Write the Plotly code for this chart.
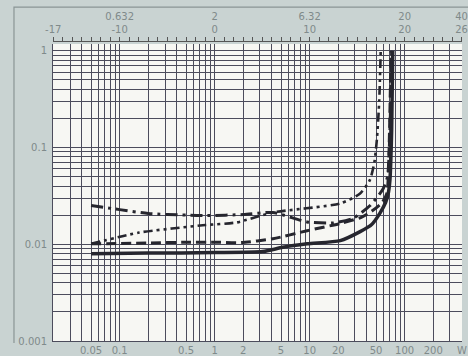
import plotly.graph_objects as go

# ---- data (power in W, THD in %) ----
power_solid = [0.05, 0.2, 1, 3.2, 5.2, 9.4, 21, 34, 45, 55, 63, 67, 70, 73, 75]
thd_solid = [0.0080, 0.0081, 0.0082, 0.0084, 0.0093, 0.0101, 0.0109, 0.0135, 0.016, 0.021, 0.027, 0.033, 0.046, 0.15, 1.0]

power_dash = [0.05, 0.2, 0.5, 1, 1.9, 4.1, 9.4, 21, 35, 46, 58, 65, 67, 69, 72]
thd_dash = [0.0101, 0.0103, 0.0105, 0.0105, 0.0104, 0.0114, 0.0138, 0.0164, 0.019, 0.0223, 0.027, 0.0335, 0.046, 0.12, 1.0]

power_dashdotdot = [0.05, 0.16, 0.8, 1.7, 4.1, 21, 34, 43, 48, 51, 54, 56]
thd_dashdotdot = [0.0101, 0.0132, 0.0158, 0.0168, 0.0213, 0.0264, 0.0335, 0.046, 0.07, 0.12, 0.3, 1.0]

power_dashdot = [0.05, 0.1, 0.2, 0.5, 0.83, 2, 4.1, 9.4, 17.6, 28.5, 43, 59, 66, 70, 73]
thd_dashdot = [0.0252, 0.0228, 0.0208, 0.0200, 0.0198, 0.0203, 0.0213, 0.0170, 0.0166, 0.0185, 0.025, 0.037, 0.05, 0.15, 1.0]

# axis ticks
x_tickvals = [0.05, 0.1, 0.5, 1, 2, 5, 10, 20, 50, 100, 200, 400]
x_ticktext = ["0.05", "0.1", "0.5", "1", "2", "5", "10", "20", "50", "100", "200", "W"]
y_tickvals = [0.001, 0.01, 0.1, 1]
y_ticktext = ["0.001", "0.01", "0.1", "1"]
db_values = list(range(-17, 27))
db_labels = {-17: " <br>-17", -10: "0.632<br>-10", 0: "2<br>0", 10: "6.32<br>10",
             20: "20<br>20", 26: "40<br>26"}

X_RANGE = [-1.702, 2.604]   # log10 of ~0.02 W .. ~400 W

LINE = "#26262e"
GRID = "#4c4c5c"
LABEL = "#7f8a8a"
PAPER = "#c9d3d2"
PLOT = "#f7f7f3"

x_grid = [m * 10 ** e for e in range(-2, 3) for m in range(1, 10)
          if 0.02 <= m * 10 ** e <= 400]
y_grid = [m * 10 ** e for e in range(-3, 1) for m in range(1, 10) if m * 10 ** e <= 1]

fig = go.Figure()
fig.add_trace(go.Scatter(x=power_solid, y=thd_solid, mode="lines",
                         line=dict(color=LINE, width=3.5, shape="spline", smoothing=0.6)))
fig.add_trace(go.Scatter(x=power_dash, y=thd_dash, mode="lines",
                         line=dict(color=LINE, width=3, dash="10px,5px", shape="spline", smoothing=0.6)))
fig.add_trace(go.Scatter(x=power_dashdotdot, y=thd_dashdotdot, mode="lines",
                         line=dict(color=LINE, width=2.6, dash="9px,4px,3px,4px,3px,4px",
                                   shape="spline", smoothing=0.6)))
fig.add_trace(go.Scatter(x=power_dashdot, y=thd_dashdot, mode="lines",
                         line=dict(color=LINE, width=3, dash="12px,5px,3px,5px",
                                   shape="spline", smoothing=0.6)))
# invisible trace to activate the top dB axis
fig.add_trace(go.Scatter(x=[0.02, 400], y=[0.001, 0.001], xaxis="x2", mode="lines",
                         line=dict(width=0), hoverinfo="skip"))

font = dict(family="DejaVu Sans", size=10, color=LABEL)

fig.update_layout(
    width=468, height=356,
    margin=dict(l=53, r=6, t=41, b=15),
    paper_bgcolor=PAPER, plot_bgcolor=PLOT,
    showlegend=False,
    font=font,
    xaxis=dict(type="log", range=X_RANGE,
               tickmode="array", tickvals=x_tickvals, ticktext=x_ticktext,
               showgrid=True, gridcolor=GRID, gridwidth=1,
               ticks="", showline=True, linecolor=GRID, zeroline=False,
               tickfont=font, automargin=False,
               minor=dict(tickmode="array", tickvals=x_grid, showgrid=True,
                          gridcolor=GRID, gridwidth=1, ticks="")),
    xaxis2=dict(type="log", range=X_RANGE,
                overlaying="x", side="top", anchor="free", position=1,
                tickmode="array",
                tickvals=[10 ** (d / 10) for d in db_values],
                ticktext=[db_labels.get(d, "") for d in db_values],
                ticks="outside", ticklen=4, tickcolor="#555", tickwidth=1,
                showline=True, linecolor="#555", showgrid=False, zeroline=False,
                tickfont=font, automargin=False),
    yaxis=dict(type="log", range=[-3, 0.07], domain=[0, 0.99],
               tickmode="array", tickvals=y_tickvals, ticktext=y_ticktext,
               showgrid=True, gridcolor=GRID, gridwidth=1,
               ticks="", showline=True, linecolor=GRID, zeroline=False,
               tickfont=font, automargin=False, ticklabelstandoff=3,
               minor=dict(tickmode="array", tickvals=y_grid, showgrid=True,
                          gridcolor=GRID, gridwidth=1, ticks="")),
    shapes=[dict(type="path", xref="paper", yref="paper",
                 path="M -0.0954,-0.007 L -0.0954,1.113 L 1.03,1.113",
                 line=dict(color="#8a9595", width=1.2))],
)

fig.write_html("out.html",
               config={"displayModeBar": False},
               post_script="document.body.style.margin='0';"
                           "document.body.style.background='#c9d3d2';")
